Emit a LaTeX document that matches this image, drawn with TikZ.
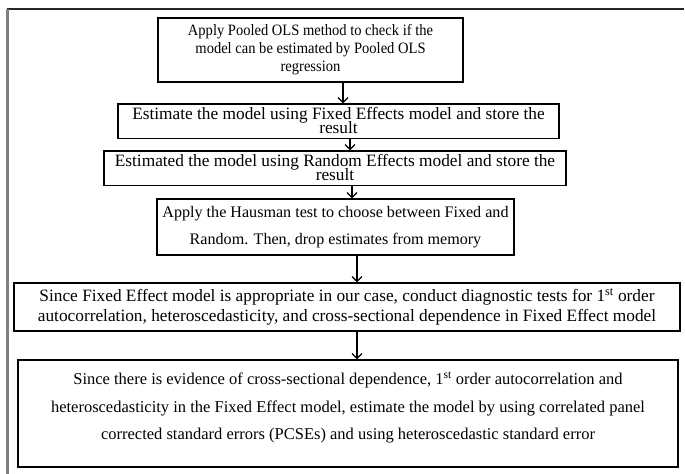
\documentclass[tikz,border=0pt]{standalone}
\usepackage{fontspec}
\setmainfont{Liberation Serif}
\newfontfamily\condserif[FakeStretch=0.92]{Liberation Serif}
\newcommand\tightlines{\lineskiplimit=-100bp\relax}
\usetikzlibrary{arrows.meta}
\begin{document}
\begin{tikzpicture}[x=1bp,y=-1bp,
  box/.style={draw=black, line width=1.1bp, inner sep=0pt, align=center},
  txt/.style={align=center, inner sep=0pt},
  fs/.style 2 args={font={\fontsize{#1}{#2}\selectfont\tightlines}},
  cfs/.style 2 args={font={\condserif\fontsize{#1}{#2}\selectfont\tightlines}},
  arr/.style={-{Straight Barb[length=5bp,width=10bp,line width=1.3bp]}, line width=1.3bp}]
\useasboundingbox (0,0) rectangle (685,474);
\draw[line width=1.2bp, black!85] (7,9) -- (684,9);
\draw[line width=2.5bp, gray] (7.5,9) -- (7.5,474);
\node[box, cfs={15.8bp}{18bp}, minimum width=305bp, minimum height=64bp] (b1) at (310.5,50)
  {Apply Pooled OLS method to check if the\\model can be estimated by Pooled OLS\\regression};
\node[box, minimum width=441bp, minimum height=34.5bp] (b2) at (338.5,121.25) {};
\node[txt, fs={17.3bp}{14bp}] (t2) at ([yshift=0.6bp]b2.center)
  {Estimate the model using Fixed Effects model and store the\\result};
\node[box, minimum width=462bp, minimum height=34.5bp] (b3) at (335,168.25) {};
\node[txt, fs={17.3bp}{14bp}] (t3) at ([yshift=0.6bp]b3.center)
  {Estimated the model using Random Effects model and store the\\result};
\node[box, fs={16.1bp}{27bp}, minimum width=357bp, minimum height=56bp] (b4) at (335.5,227)
  {Apply the Hausman test to choose between Fixed and\\Random. Then, drop estimates from memory};
\node[box, fs={17.3bp}{20bp}, minimum width=666bp, minimum height=48bp] (b5) at (347,307)
  {Since Fixed Effect model is appropriate in our case, conduct diagnostic tests for 1\textsuperscript{st} order\\autocorrelation, heteroscedasticity, and cross-sectional dependence in Fixed Effect model};
\node[box, minimum width=660bp, minimum height=107bp] (b6) at (348,413.5) {};
\node[txt, fs={16.5bp}{27.5bp}] (t6) at ([yshift=6bp]b6.center)
  {Since there is evidence of cross-sectional dependence, 1\textsuperscript{st} order autocorrelation and\\heteroscedasticity in the Fixed Effect model, estimate the model by using correlated panel\\corrected standard errors (PCSEs) and using heteroscedastic standard error};
\coordinate (a1) at (343,0);
\coordinate (a2) at (350,0);
\coordinate (a3) at (352,0);
\coordinate (a4) at (357,0);
\coordinate (a5) at (357,0);
\draw[arr] (b1.south -| a1) -- (b2.north -| a1);
\draw[arr] (b2.south -| a2) -- (b3.north -| a2);
\draw[arr] (b3.south -| a3) -- (b4.north -| a3);
\draw[arr] (b4.south -| a4) -- (b5.north -| a4);
\draw[arr] (b5.south -| a5) -- (b6.north -| a5);
\end{tikzpicture}
\end{document}
